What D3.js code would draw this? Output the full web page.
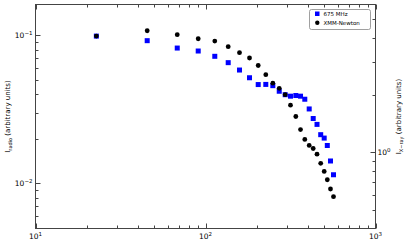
<!DOCTYPE html>
<html><head><meta charset="utf-8">
<script src="https://cdn.jsdelivr.net/npm/d3@7"></script>
<style>body{margin:0;background:#fff}text{font-family:"DejaVu Sans",sans-serif;fill:#000}</style>
</head><body><svg id="c" width="407" height="243"></svg>
<script>
const radius = [22.8,45.4,68.2,90.6,113.4,136.0,158.5,181.5,204.2,226.3,248.9,271.5,294.3,316.2,339.8,362.2,383.8,407.4,430.1,452.9,476.1,499.1,520.6,543.6,566.2];
const radio675 = [0.0989,0.0921,0.0821,0.0784,0.0722,0.0654,0.0583,0.0517,0.0465,0.0466,0.0457,0.0419,0.0397,0.0388,0.0392,0.0388,0.0370,0.0318,0.0274,0.0250,0.0213,0.0202,0.0180,0.01414,0.01141];
const xmm = [4.08,4.35,4.15,3.95,3.84,3.59,3.34,3.13,2.86,2.56,2.31,2.17,2.01,1.77,1.544,1.319,1.170,1.088,1.049,0.980,0.877,0.795,0.719,0.643,0.586];
const xTicks = [10,100,1000], xTickExp = ["1","2","3"];
const yLeftTicks = [0.1,0.01], yLeftExp = ["\u22121","\u22122"];
const yRightTicks = [1], yRightExp = ["0"];
const seriesNames = ["675 MHz","XMM-Newton"];

const svg = d3.select("#c");
const L=35.5,R=375.5,T=4.5,B=228.5;
const x = d3.scaleLog().domain([10,1000]).range([L,R]);
const yl = d3.scaleLog().domain([0.00494,0.1618]).range([B,T]);
const yr = d3.scaleLog().domain([0.399,5.975]).range([B,T]);
const ax="#444";

function minorTicks(scale){
  const [a,b]=scale.domain(); const out=[];
  for(let e=Math.floor(Math.log10(a));e<=Math.ceil(Math.log10(b));e++){
    for(let m=1;m<10;m++){const v=m*Math.pow(10,e); if(v>=a*0.999&&v<=b*1.001) out.push({v,major:m===1});}
  }
  return out;
}
const g=svg.append("g");
// x ticks bottom and top
minorTicks(x).forEach(t=>{
  const px=Math.round(x(t.v))+0.5, len=t.major?5:3;
  g.append("line").attr("x1",px).attr("x2",px).attr("y1",B).attr("y2",B-len).attr("stroke",ax).attr("stroke-width",1);
  g.append("line").attr("x1",px).attr("x2",px).attr("y1",T).attr("y2",T+len).attr("stroke",ax).attr("stroke-width",1);
});
minorTicks(yl).forEach(t=>{
  const py=Math.round(yl(t.v))+0.5, len=t.major?5:3;
  g.append("line").attr("x1",L).attr("x2",L+len).attr("y1",py).attr("y2",py).attr("stroke",ax);
});
minorTicks(yr).forEach(t=>{
  const py=Math.round(yr(t.v))+0.5, len=t.major?5:3;
  g.append("line").attr("x1",R).attr("x2",R-len).attr("y1",py).attr("y2",py).attr("stroke",ax);
});
g.append("rect").attr("x",L).attr("y",T).attr("width",R-L).attr("height",B-T).attr("fill","none").attr("stroke",ax).attr("stroke-width",1);

function powLabel(xp,yp,exp,anchor){
  const t=svg.append("text").attr("x",xp).attr("y",yp).attr("font-size",7.5).attr("text-anchor",anchor);
  t.append("tspan").text("10");
  t.append("tspan").attr("dy",-3.5).attr("font-size",5.5).text(exp);
}
xTicks.forEach((v,i)=>powLabel(x(v),239,xTickExp[i],"middle"));
yLeftTicks.forEach((v,i)=>powLabel(L-3,yl(v)+3,yLeftExp[i],"end"));
yRightTicks.forEach((v,i)=>powLabel(R+2,yr(v)+3,yRightExp[i],"start"));

// axis labels
const ll=svg.append("text").attr("transform",`translate(10,${(T+B)/2}) rotate(-90)`).attr("text-anchor","middle").attr("font-size",7);
ll.append("tspan").text("I");
ll.append("tspan").attr("font-size",5).attr("dy",1.5).text("radio");
ll.append("tspan").attr("dy",-1.5).text(" (arbitrary units)");
const rl=svg.append("text").attr("transform",`translate(401,${(T+B)/2}) rotate(-90)`).attr("text-anchor","middle").attr("font-size",7);
rl.append("tspan").text("I");
rl.append("tspan").attr("font-size",5).attr("dy",1.5).text("X\u2212ray");
rl.append("tspan").attr("dy",-1.5).text(" (arbitrary units)");

// data
svg.append("g").selectAll("rect").data(radius).join("rect")
  .attr("x",(d,i)=>x(d)-2.5).attr("y",(d,i)=>yl(radio675[i])-2.5).attr("width",5).attr("height",5).attr("fill","#0000ff");
svg.append("g").selectAll("circle").data(radius).join("circle")
  .attr("cx",d=>x(d)).attr("cy",(d,i)=>yr(xmm[i])).attr("r",2.4).attr("fill","#000");

// legend
const lg=svg.append("g");
lg.append("rect").attr("x",309.5).attr("y",9.5).attr("width",61).attr("height",20).attr("rx",2).attr("fill","#fff").attr("stroke","#888").attr("stroke-width",0.8);
lg.append("rect").attr("x",315).attr("y",11.5).attr("width",4.5).attr("height",4.5).attr("fill","#0000ff");
lg.append("circle").attr("cx",317.3).attr("cy",22.7).attr("r",2.2).attr("fill","#000");
lg.append("text").attr("x",323.5).attr("y",16).attr("font-size",5.5).text(seriesNames[0]);
lg.append("text").attr("x",323.5).attr("y",25).attr("font-size",5.5).text(seriesNames[1]);
</script></body></html>
